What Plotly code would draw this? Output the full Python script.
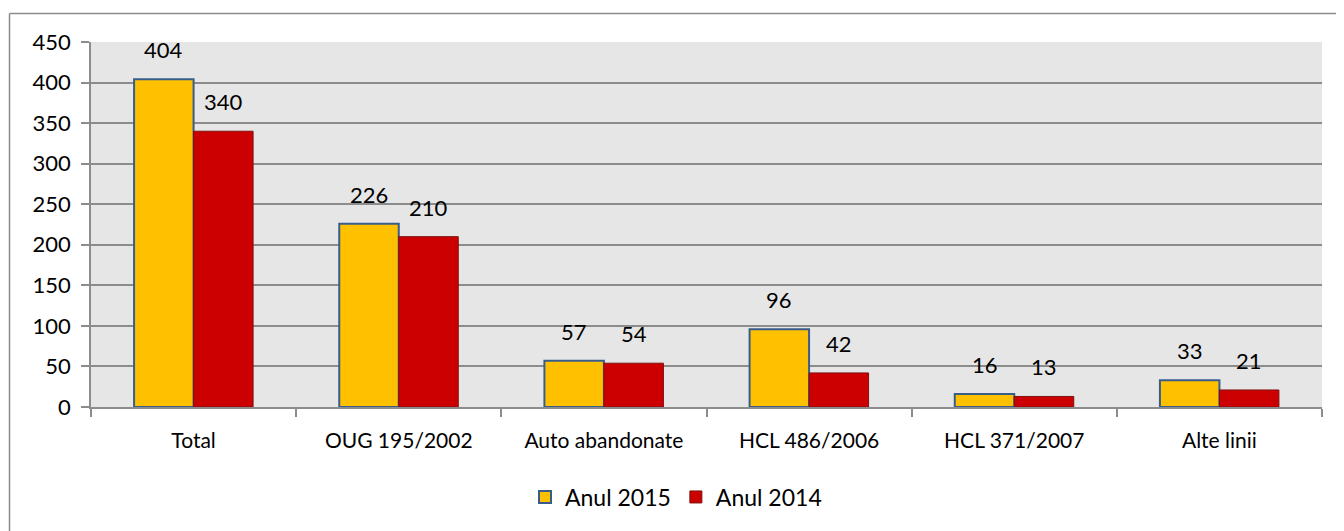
import plotly.graph_objects as go

categories = ["Total", "OUG 195/2002", "Auto abandonate", "HCL 486/2006", "HCL 371/2007", "Alte linii"]
anul_2015 = [404, 226, 57, 96, 16, 33]
anul_2014 = [340, 210, 54, 42, 13, 21]
series_names = ["Anul 2015", "Anul 2014"]

FONT = "Lato"
FS = 22
OFF = 8  # page body margin
W, H = 1344 - OFF, 531 - OFF
L, T = 91 - OFF, 42 - OFF
R = W - (1322 - OFF)
B = H - (407 - OFF)
plot_w = W - L - R
plot_h = H - T - B
bargap = 0.42
cat_w = plot_w / len(categories)
bar_w = cat_w * (1 - bargap) / 2

fig = go.Figure()
fig.add_trace(go.Bar(
    x=categories, y=anul_2015, name=series_names[0],
    marker=dict(color="#FFC000", line=dict(color="#385D8A", width=2)),
))
fig.add_trace(go.Bar(
    x=categories, y=anul_2014, name=series_names[1],
    marker=dict(color="#CC0000", line=dict(color="#7F1010", width=1)),
))

annotations = []
for vals, sign in ((anul_2015, -1), (anul_2014, 1)):
    for c, v in zip(categories, vals):
        annotations.append(dict(
            x=c, y=v, xref="x", yref="y", text=str(v), showarrow=False,
            xshift=sign * bar_w / 2, yshift=14, yanchor="bottom",
            font=dict(family=FONT, size=FS, color="black"),
        ))

def px_to_paper_x(px):
    return (px - OFF - L) / plot_w

def py_to_paper_y(py):
    return (H - B - (py - OFF)) / plot_h

shapes = [
    dict(type="line", xref="paper", yref="paper",
         x0=px_to_paper_x(9.5), x1=px_to_paper_x(9.5),
         y0=py_to_paper_y(13.5), y1=py_to_paper_y(540),
         line=dict(color="#8c8c8c", width=1.5)),
    dict(type="line", xref="paper", yref="paper",
         x0=px_to_paper_x(9.5), x1=px_to_paper_x(1350),
         y0=py_to_paper_y(13.5), y1=py_to_paper_y(13.5),
         line=dict(color="#8c8c8c", width=1.5)),
]

fig.update_layout(
    width=W, height=H,
    margin=dict(l=L, r=R, t=T, b=B),
    paper_bgcolor="white",
    plot_bgcolor="#E6E6E6",
    barmode="group", bargap=bargap, bargroupgap=0,
    font=dict(family=FONT, size=FS, color="black"),
    showlegend=True,
    legend=dict(orientation="h", x=px_to_paper_x(676), xanchor="center", y=py_to_paper_y(497),
                yanchor="middle", font=dict(family=FONT, size=23, color="black"),
                itemwidth=30, bgcolor="rgba(0,0,0,0)"),
    annotations=annotations,
    shapes=shapes,
)
fig.update_yaxes(
    range=[0, 450], dtick=50, showgrid=True, gridcolor="#8c8c8c", gridwidth=2,
    showline=True, linecolor="#8c8c8c", linewidth=1.5,
    ticks="outside", ticklen=8, tickcolor="#8c8c8c", tickwidth=1.5,
    tickfont=dict(family=FONT, size=FS, color="black"), zeroline=False,
    ticklabelstandoff=6,
)
fig.update_xaxes(
    showline=True, linecolor="#8c8c8c", linewidth=1.5,
    ticks="outside", ticklen=8, tickcolor="#8c8c8c", tickwidth=1.5,
    tickson="boundaries", showgrid=False,
    tickfont=dict(family=FONT, size=21, color="black"),
    ticklabelstandoff=14,
)

fig.write_html("out.html")
